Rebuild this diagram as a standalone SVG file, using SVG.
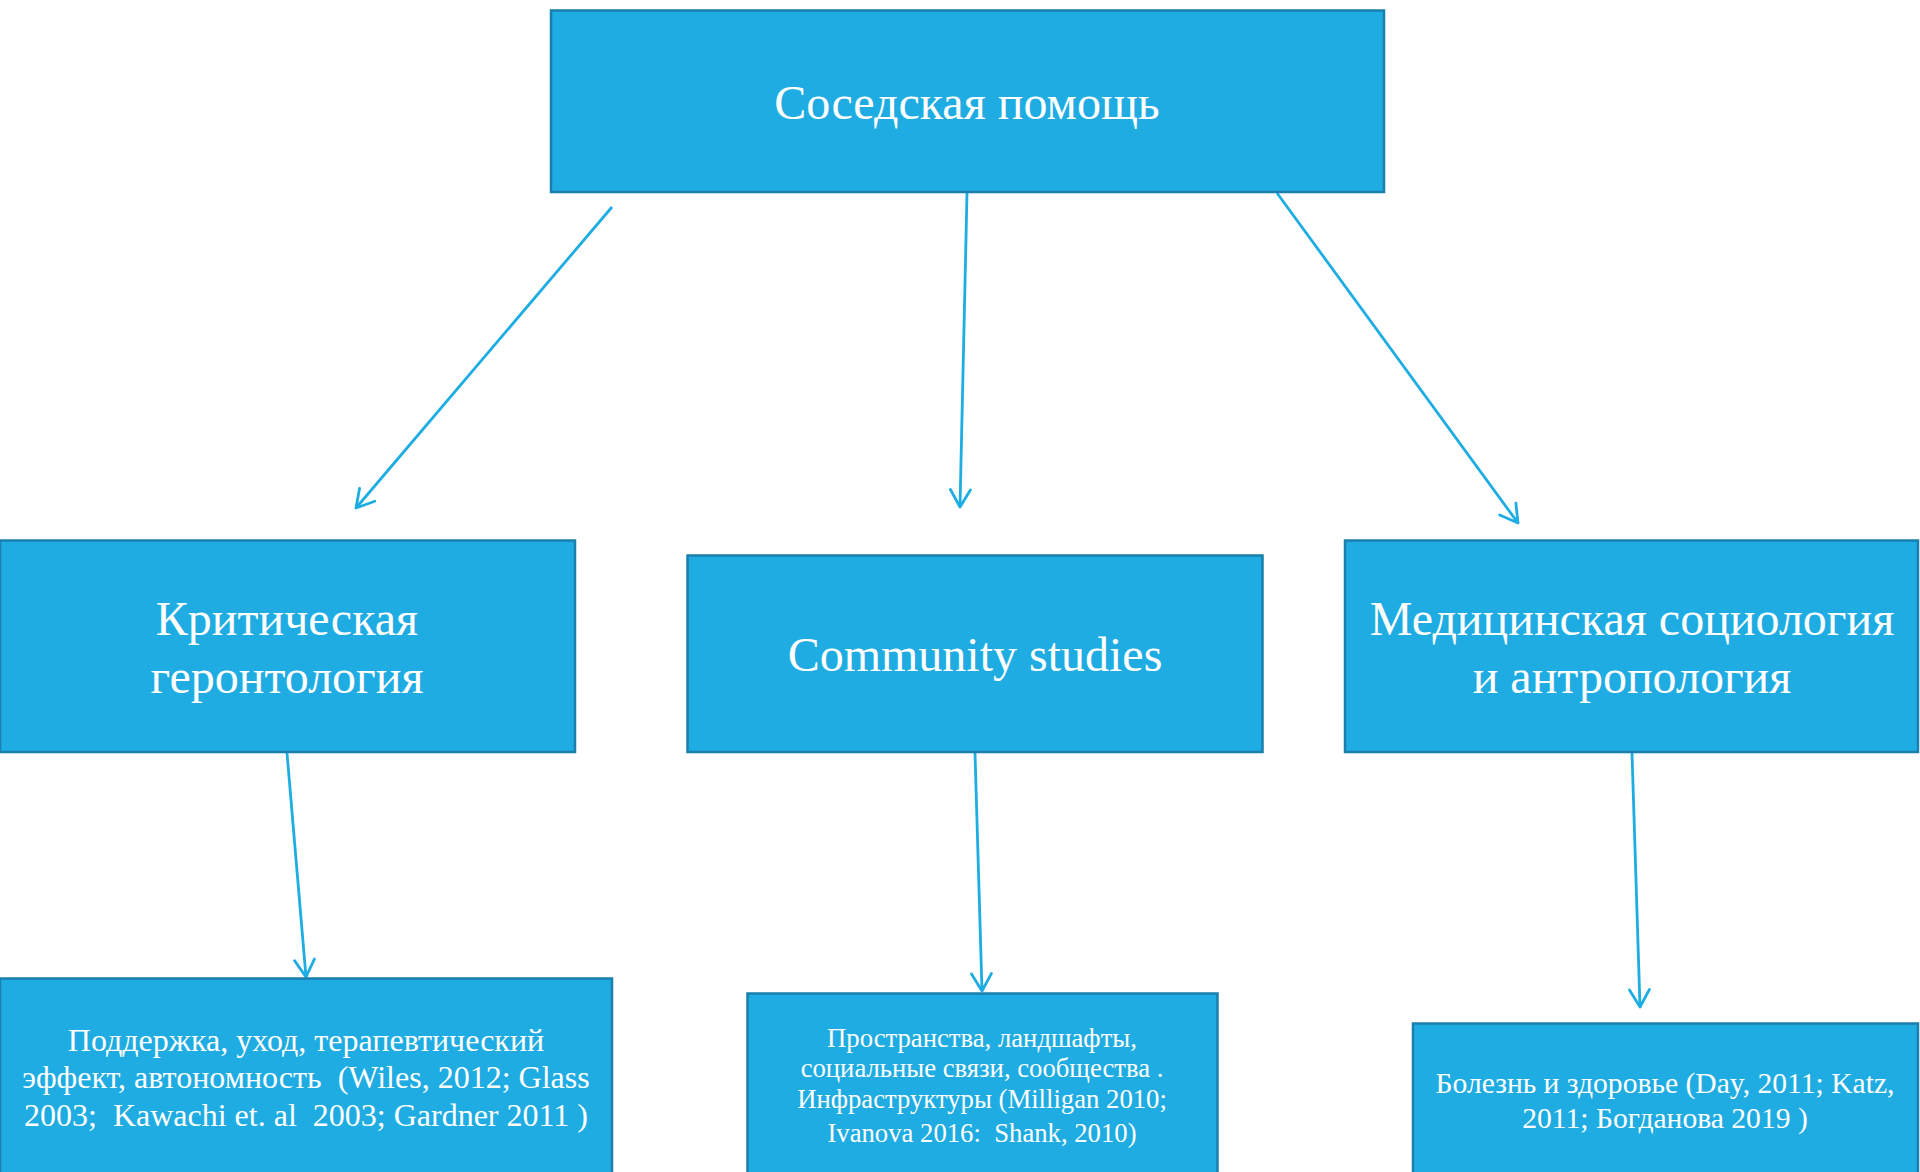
<svg xmlns="http://www.w3.org/2000/svg" width="1920" height="1172" viewBox="0 0 1920 1172">
<style>
.box{fill:#1FACE2;stroke:#1A7FAC;stroke-width:2.5}
.t{fill:#FFFFFF;font-family:"Liberation Serif","Times New Roman",serif;text-anchor:middle;white-space:pre}
.big{font-size:48px}
.s31{font-size:32px}
.s26{font-size:26.7px}
.s28{font-size:29.6px}
.conn{stroke:#1EADE2;stroke-width:2.8;fill:none;marker-end:url(#arr)}
</style>
<defs>
<marker id="arr" markerUnits="userSpaceOnUse" markerWidth="26" markerHeight="26" viewBox="-22 -13 26 26" refX="0" refY="0" orient="auto">
<path d="M-17.3,-10 L0,0 L-17.3,10" fill="none" stroke="#1EADE2" stroke-width="2.8" stroke-linecap="round" stroke-linejoin="round"/>
</marker>
</defs>
<rect width="1920" height="1172" fill="#FFFFFF"/>
<g id="connectors">
<line class="conn" x1="612" y1="207" x2="356" y2="508"/>
<line class="conn" x1="967" y1="193" x2="960" y2="507"/>
<line class="conn" x1="1277" y1="193" x2="1518" y2="523"/>
<line class="conn" x1="287" y1="753" x2="306" y2="977"/>
<line class="conn" x1="975" y1="753" x2="982" y2="991"/>
<line class="conn" x1="1632" y1="753" x2="1640" y2="1007"/>
</g>
<g id="node-top">
<rect class="box" x="551" y="10.5" width="833" height="181.5"/>
<text class="t big" x="967" y="119">Соседская помощь</text>
</g>
<g id="node-gerontology">
<rect class="box" x="0" y="540.5" width="575" height="211.5"/>
<text class="t big" x="287" y="635">Критическая</text>
<text class="t big" x="287" y="693">геронтология</text>
</g>
<g id="node-community">
<rect class="box" x="687.5" y="555.5" width="575" height="196.5"/>
<text class="t big" x="975" y="671">Community studies</text>
</g>
<g id="node-medical">
<rect class="box" x="1345" y="540.5" width="573" height="211.5"/>
<text class="t big" x="1632" y="635">Медицинская социология</text>
<text class="t big" x="1632" y="693">и антропология</text>
</g>
<g id="node-support">
<rect class="box" x="0" y="978.5" width="612" height="210"/>
<text class="t s31" x="306" y="1051">Поддержка, уход, терапевтический</text>
<text class="t s31" x="306" y="1088">эффект, автономность  (Wiles, 2012; Glass</text>
<text class="t s31" x="306" y="1126">2003;  Kawachi et. al  2003; Gardner 2011 )</text>
</g>
<g id="node-spaces">
<rect class="box" x="747.5" y="993.5" width="470" height="195"/>
<text class="t s26" x="982" y="1047">Пространства, ландшафты,</text>
<text class="t s26" x="982" y="1077">социальные связи, сообщества .</text>
<text class="t s26" x="982" y="1108">Инфраструктуры (Milligan 2010;</text>
<text class="t s26" x="982" y="1142">Ivanova 2016:  Shank, 2010)</text>
</g>
<g id="node-health">
<rect class="box" x="1413" y="1023.5" width="505" height="165"/>
<text class="t s28" x="1665" y="1093">Болезнь и здоровье (Day, 2011; Katz,</text>
<text class="t s28" x="1665" y="1128">2011; Богданова 2019 )</text>
</g>
</svg>
